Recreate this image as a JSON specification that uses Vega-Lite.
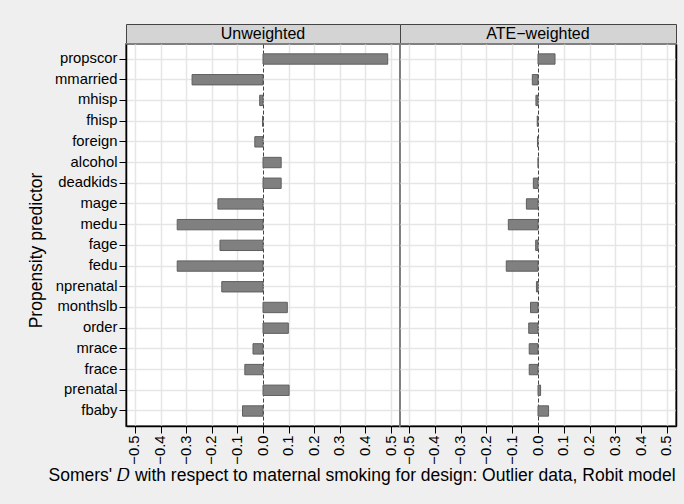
{
  "$schema": "https://vega.github.io/schema/vega-lite/v6.json",
  "background": "#efefef",
  "padding": {"left": 26, "top": 23, "right": 7, "bottom": 22},
  "config": {
    "font": "Liberation Sans",
    "concat": {"spacing": 0},
    "axis": {"labelFont": "Liberation Sans", "titleFont": "Liberation Sans", "labelColor": "#000", "titleColor": "#000", "titleFontWeight": "normal", "labelFlush": false}
  },
  "title": {"text": "Somers' \ud835\udc37 with respect to maternal smoking for design: Outlier data, Robit model", "orient": "bottom", "fontSize": 17.5, "fontWeight": "normal", "font": "Liberation Sans", "color": "#000", "offset": 2, "dx": 22},
  "datasets": {
    "headers": [{"panel": "Unweighted"}, {"panel": "ATE\u2212weighted"}],
    "somers": [
      {"panel": "Unweighted", "var": "propscor", "d": 0.487},
      {"panel": "Unweighted", "var": "mmarried", "d": -0.277},
      {"panel": "Unweighted", "var": "mhisp", "d": -0.013},
      {"panel": "Unweighted", "var": "fhisp", "d": -0.002},
      {"panel": "Unweighted", "var": "foreign", "d": -0.032},
      {"panel": "Unweighted", "var": "alcohol", "d": 0.071},
      {"panel": "Unweighted", "var": "deadkids", "d": 0.071},
      {"panel": "Unweighted", "var": "mage", "d": -0.176},
      {"panel": "Unweighted", "var": "medu", "d": -0.335},
      {"panel": "Unweighted", "var": "fage", "d": -0.168},
      {"panel": "Unweighted", "var": "fedu", "d": -0.335},
      {"panel": "Unweighted", "var": "nprenatal", "d": -0.161},
      {"panel": "Unweighted", "var": "monthslb", "d": 0.095},
      {"panel": "Unweighted", "var": "order", "d": 0.099},
      {"panel": "Unweighted", "var": "mrace", "d": -0.039},
      {"panel": "Unweighted", "var": "frace", "d": -0.071},
      {"panel": "Unweighted", "var": "prenatal", "d": 0.102},
      {"panel": "Unweighted", "var": "fbaby", "d": -0.080},
      {"panel": "ATE\u2212weighted", "var": "propscor", "d": 0.066},
      {"panel": "ATE\u2212weighted", "var": "mmarried", "d": -0.022},
      {"panel": "ATE\u2212weighted", "var": "mhisp", "d": -0.008},
      {"panel": "ATE\u2212weighted", "var": "fhisp", "d": -0.003},
      {"panel": "ATE\u2212weighted", "var": "foreign", "d": -0.002},
      {"panel": "ATE\u2212weighted", "var": "alcohol", "d": 0.001},
      {"panel": "ATE\u2212weighted", "var": "deadkids", "d": -0.018},
      {"panel": "ATE\u2212weighted", "var": "mage", "d": -0.045},
      {"panel": "ATE\u2212weighted", "var": "medu", "d": -0.115},
      {"panel": "ATE\u2212weighted", "var": "fage", "d": -0.009},
      {"panel": "ATE\u2212weighted", "var": "fedu", "d": -0.123},
      {"panel": "ATE\u2212weighted", "var": "nprenatal", "d": -0.006},
      {"panel": "ATE\u2212weighted", "var": "monthslb", "d": -0.029},
      {"panel": "ATE\u2212weighted", "var": "order", "d": -0.036},
      {"panel": "ATE\u2212weighted", "var": "mrace", "d": -0.034},
      {"panel": "ATE\u2212weighted", "var": "frace", "d": -0.034},
      {"panel": "ATE\u2212weighted", "var": "prenatal", "d": 0.010},
      {"panel": "ATE\u2212weighted", "var": "fbaby", "d": 0.041}
    ]
  },
  "columns": 2,
  "bounds": "flush",
  "spacing": 0,
  "concat": [
    {
      "width": 274, "height": 20,
      "view": {"fill": "#d4d4d4", "stroke": "#444444", "strokeWidth": 1},
      "data": {"name": "headers"},
      "transform": [{"filter": "datum.panel === 'Unweighted'"}],
      "mark": {"type": "text", "fontSize": 16, "font": "Liberation Sans", "color": "#000", "baseline": "middle"},
      "encoding": {"text": {"field": "panel"}}
    },
    {
      "width": 276, "height": 20,
      "view": {"fill": "#d4d4d4", "stroke": "#444444", "strokeWidth": 1},
      "data": {"name": "headers"},
      "transform": [{"filter": "datum.panel !== 'Unweighted'"}],
      "mark": {"type": "text", "fontSize": 16, "font": "Liberation Sans", "color": "#000", "baseline": "middle"},
      "encoding": {"text": {"field": "panel"}}
    },
    {
      "width": 274, "height": 382,
      "view": {"fill": "#ffffff", "stroke": "#808080", "strokeWidth": 2},
      "data": {"name": "somers"},
      "transform": [{"filter": "datum.panel === 'Unweighted'"}],
      "mark": {"type": "bar", "fill": "#808080", "stroke": "#5f5f5f", "strokeWidth": 1},
      "encoding": {
        "y": {"field": "var", "type": "nominal", "sort": null,
          "scale": {"paddingInner": 0.5, "paddingOuter": 0.475},
          "axis": {"title": "Propensity predictor", "titleFontSize": 17.5, "titlePadding": 9, "titleY": 206, "labelFontSize": 14.8, "labelPadding": 2, "tickSize": 7, "tickColor": "#000", "domainColor": "#000", "domainWidth": 1.5, "grid": true, "bandPosition": 0.5, "gridColor": "#e6e6e6", "gridWidth": 1.5}},
        "x": {"field": "d", "type": "quantitative",
          "scale": {"domain": [-0.535, 0.535], "nice": false, "zero": false},
          "axis": {"title": null, "values": [-0.5, -0.4, -0.3, -0.2, -0.1, 0, 0.1, 0.2, 0.3, 0.4, 0.5], "format": ".1f", "labelAngle": -90, "labelOverlap": false, "labelBound": false, "labelFontSize": 14.8, "labelPadding": 2, "tickSize": 7, "tickColor": "#000", "domainColor": "#000", "domainWidth": 1.5, "grid": true,
            "gridColor": {"condition": {"test": "datum.value === 0", "value": "#444444"}, "value": "#e6e6e6"},
            "gridDash": {"condition": {"test": "datum.value === 0", "value": [4, 2]}, "value": []},
            "gridWidth": {"condition": {"test": "datum.value === 0", "value": 1}, "value": 1.5}}},
        "x2": {"datum": 0}
      }
    },
    {
      "width": 276, "height": 382,
      "view": {"fill": "#ffffff", "stroke": "#808080", "strokeWidth": 2},
      "data": {"name": "somers"},
      "transform": [{"filter": "datum.panel !== 'Unweighted'"}],
      "mark": {"type": "bar", "fill": "#808080", "stroke": "#5f5f5f", "strokeWidth": 1},
      "encoding": {
        "y": {"field": "var", "type": "nominal", "sort": null,
          "scale": {"paddingInner": 0.5, "paddingOuter": 0.475},
          "axis": {"orient": "right", "title": null, "labels": false, "ticks": false, "minExtent": 0, "maxExtent": 0, "offset": 0, "domainColor": "#000", "domainWidth": 1.5, "grid": true, "bandPosition": 0.5, "gridColor": "#e6e6e6", "gridWidth": 1.5}},
        "x": {"field": "d", "type": "quantitative",
          "scale": {"domain": [-0.535, 0.535], "nice": false, "zero": false},
          "axis": {"title": null, "values": [-0.5, -0.4, -0.3, -0.2, -0.1, 0, 0.1, 0.2, 0.3, 0.4, 0.5], "format": ".1f", "labelAngle": -90, "labelOverlap": false, "labelBound": false, "labelFontSize": 14.8, "labelPadding": 2, "tickSize": 7, "tickColor": "#000", "domainColor": "#000", "domainWidth": 1.5, "grid": true,
            "gridColor": {"condition": {"test": "datum.value === 0", "value": "#444444"}, "value": "#e6e6e6"},
            "gridDash": {"condition": {"test": "datum.value === 0", "value": [4, 2]}, "value": []},
            "gridWidth": {"condition": {"test": "datum.value === 0", "value": 1}, "value": 1.5}}},
        "x2": {"datum": 0}
      }
    }
  ]
}
